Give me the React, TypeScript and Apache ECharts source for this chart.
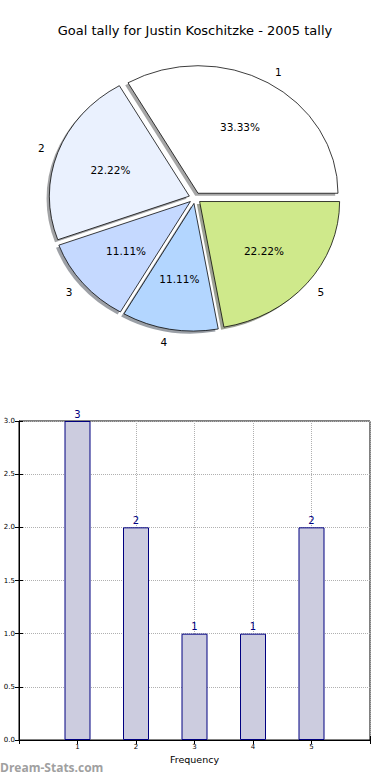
import React, { useEffect, useRef } from 'react';
import * as echarts from 'echarts';

const chartTitle = 'Goal tally for Justin Koschitzke - 2005 tally';
const goalCategories = ['1', '2', '3', '4', '5'];
const frequencies = [3, 2, 1, 1, 2];
const sliceColors = ['#ffffff', '#eaf1fe', '#c5d9ff', '#b3d6ff', '#cfe98b'];
const xAxisName = 'Frequency';
const watermark = 'Dream-Stats.com';

const FONT = '"DejaVu Sans", sans-serif';

// pie geometry (matplotlib-like elliptical pie)
const PIE_CX = 195;
const PIE_CY = 198;
const PIE_RX = 140;
const PIE_RY = 127.5;
const EXPLODE = 0.043;
const LABEL_DIST = 1.1;
const PCT_DIST = 0.6;
const SHADOW_DX = -0.02;
const SHADOW_DY = -0.02;

function darken(hex: string, f: number): string {
  const n = parseInt(hex.slice(1), 16);
  const r = Math.round(((n >> 16) & 255) * f);
  const g = Math.round(((n >> 8) & 255) * f);
  const b = Math.round((n & 255) * f);
  return `rgb(${r},${g},${b})`;
}

export default function App() {
  const ref = useRef<HTMLDivElement>(null);
  useEffect(() => {
    if (!ref.current) return;
    const chart = echarts.init(ref.current, undefined, { renderer: 'svg' });
    const total = frequencies.reduce((a, b) => a + b, 0);
    const starts: number[] = [];
    let acc = 0;
    frequencies.forEach((v) => {
      starts.push(acc);
      acc += v;
    });

    const renderPie = (params: any, api: any) => {
      const i = params.dataIndex;
      const v = api.value(0);
      const t1 = (starts[i] / total) * Math.PI * 2;
      const t2 = ((starts[i] + v) / total) * Math.PI * 2;
      const mid = (t1 + t2) / 2;
      const cosM = Math.cos(mid);
      const sinM = Math.sin(mid);
      const ox = PIE_CX + EXPLODE * PIE_RX * cosM;
      const oy = PIE_CY - EXPLODE * PIE_RY * sinM;
      const scaleY = PIE_RY / PIE_RX;
      const color = sliceColors[i];
      const pct = ((v / total) * 100).toFixed(2) + '%';
      return {
        type: 'group',
        children: [
          {
            type: 'group',
            x: ox + SHADOW_DX * PIE_RX,
            y: oy - SHADOW_DY * PIE_RY,
            scaleY,
            z2: 0,
            children: [
              {
                type: 'sector',
                z2: 0,
                shape: { cx: 0, cy: 0, r0: 0, r: PIE_RX, startAngle: -t2, endAngle: -t1, clockwise: true },
                style: { fill: darken(color, 0.3), opacity: 0.5, stroke: 'none' },
              },
            ],
          },
          {
            type: 'group',
            x: ox,
            y: oy,
            scaleY,
            z2: 10,
            children: [
              {
                type: 'sector',
                z2: 10,
                shape: { cx: 0, cy: 0, r0: 0, r: PIE_RX, startAngle: -t2, endAngle: -t1, clockwise: true },
                style: { fill: color, stroke: '#000', lineWidth: 0.8, strokeNoScale: true },
              },
            ],
          },
          {
            type: 'text',
            z2: 20,
            x: ox + PCT_DIST * PIE_RX * cosM,
            y: oy - PCT_DIST * PIE_RY * sinM,
            style: {
              text: pct,
              font: '10.5px "DejaVu Sans", sans-serif',
              fill: '#000',
              align: 'center',
              verticalAlign: 'middle',
            },
          },
          {
            type: 'text',
            z2: 20,
            x: ox + LABEL_DIST * PIE_RX * cosM,
            y: oy - LABEL_DIST * PIE_RY * sinM,
            style: {
              text: goalCategories[i],
              font: '10.5px "DejaVu Sans", sans-serif',
              fill: '#000',
              align: cosM >= 0 ? 'left' : 'right',
              verticalAlign: 'middle',
            },
          },
        ],
      };
    };

    const barData = goalCategories.map((c, i) => [Number(c), frequencies[i]]);
    const tickStyle = { show: true, inside: true, length: 4, lineStyle: { color: '#000', width: 1 } };
    const gridLine = { show: true, lineStyle: { color: '#b0b0b0', type: 'dotted' as const, width: 1 } };
    chart.setOption({
      animation: false,
      backgroundColor: '#fff',
      textStyle: { fontFamily: FONT },
      title: {
        text: chartTitle,
        left: 'center',
        top: 19,
        textStyle: { fontFamily: FONT, fontSize: 13, fontWeight: 'normal', color: '#000' },
      },
      graphic: [
        {
          type: 'text',
          left: 0,
          top: 761,
          style: {
            text: watermark,
            font: 'bold 12px "Open Sans", sans-serif',
            fill: '#a0a0a0',
          },
        },
      ],
      grid: {
        left: 19,
        right: 20,
        top: 421,
        bottom: 40,
        show: true,
        borderColor: '#000',
        borderWidth: 1,
        backgroundColor: 'transparent',
      },
      xAxis: [
        {
          type: 'value',
          min: 0,
          max: 6,
          interval: 1,
          name: xAxisName,
          nameLocation: 'middle',
          nameGap: 14,
          nameTextStyle: { fontFamily: FONT, fontSize: 9.5, color: '#000' },
          axisLine: { show: true, lineStyle: { color: '#000' } },
          axisTick: tickStyle,
          axisLabel: {
            fontFamily: FONT,
            fontSize: 7,
            color: '#000',
            margin: 3,
            formatter: (v: number) => (goalCategories.includes(String(v)) ? String(v) : ''),
          },
          splitLine: gridLine,
        },
        {
          type: 'value',
          position: 'top',
          min: 0,
          max: 6,
          interval: 1,
          axisLine: { show: false },
          axisTick: tickStyle,
          axisLabel: { show: false },
          splitLine: { show: false },
        },
      ],
      yAxis: [
        {
          type: 'value',
          min: 0,
          max: 3,
          interval: 0.5,
          axisLine: { show: true, lineStyle: { color: '#000' } },
          axisTick: tickStyle,
          axisLabel: {
            fontFamily: FONT,
            fontSize: 7,
            color: '#000',
            margin: 4,
            formatter: (v: number) => v.toFixed(1),
          },
          splitLine: gridLine,
        },
        {
          type: 'value',
          position: 'right',
          min: 0,
          max: 3,
          interval: 0.5,
          axisLine: { show: false },
          axisTick: tickStyle,
          axisLabel: { show: false },
          splitLine: { show: false },
        },
      ],
      series: [
        {
          type: 'custom',
          coordinateSystem: 'none',
          silent: true,
          renderItem: renderPie,
          data: frequencies.map((v) => [v]),
        },
        {
          type: 'bar',
          xAxisIndex: 0,
          yAxisIndex: 0,
          barWidth: 26,
          itemStyle: { color: '#ccccdf', borderColor: '#000080', borderWidth: 1 },
          label: {
            show: true,
            position: 'top',
            distance: 2,
            fontFamily: FONT,
            fontSize: 10,
            color: '#000080',
            formatter: (p: any) => String(p.value[1]),
          },
          emphasis: { disabled: true },
          z: 1,
          data: barData,
        },
      ],
    });
    return () => chart.dispose();
  }, []);
  return (
    <div
      ref={ref}
      style={{ position: 'fixed', left: 0, top: 0, width: 390, height: 780, background: '#fff' }}
    />
  );
}
